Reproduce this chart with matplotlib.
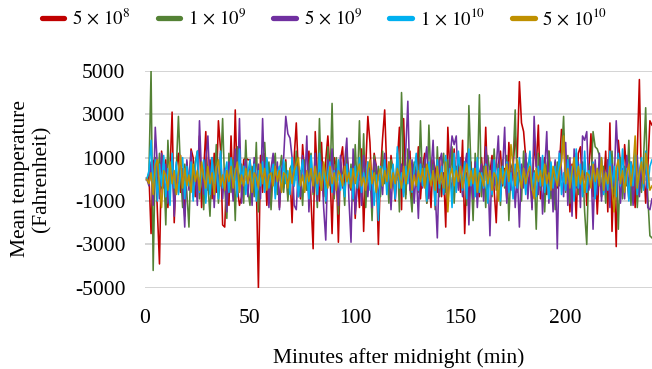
import numpy as np
from matplotlib import pyplot as plt

plt.rcParams['font.family'] = ['Liberation Serif', 'DejaVu Serif']
plt.rcParams['mathtext.fontset'] = 'stix'
plt.rcParams['axes.unicode_minus'] = False

# values, one per minute (starting at minute 1)
red_5e8 = [
    0, 200, -2500, 800, 1000, -1500, -3900, 1300, 200, 900,
    -1300, 300, 3100, -2000, 600, 1200, -600, 500, -1700, 800,
    -400, 1400, 1000, -800, 200, 2000, -1300, 400, 2200, -500,
    900, -900, 1200, -600, 2700, 1400, -2100, -2200, 400, -1200,
    2000, -600, 3200, -400, -1200, -800, 900, 1000, 900, 900,
    -200, 800, -100, -5000, 1100, -600, 1200, -1200, 500, -1100,
    800, -300, 600, -1300, 400, -400, 900, -800, 300, -2000,
    1000, 2600, 200, -900, 1600, 200, -500, 1300, -1000, -3200,
    2200, 200, -1000, 1700, -800, 900, 2000, 400, -2500, 1000,
    600, -2900, 900, 1500, -500, 1200, 200, -500, 800, -1800,
    400, -1300, 1400, -2400, 600, 2900, 1700, -700, 1200, 600,
    -3000, 300, 1900, 3200, 400, -600, 1100, 300, -1000, 800,
    2400, -1400, 2800, -700, 900, 1300, -1200, 700, -300, 1500,
    -900, 500, 1200, -1100, 400, -1300, 900, 500, -600, 1000,
    -800, 300, -2200, 2400, 200, -700, 1400, -300, 900, -600,
    1800, -2500, 300, -1000, 800, -1200, 600, 400, -800, 1000,
    -400, 2400, -600, 300, 1100, -500, -2000, 700, 1300, -300,
    500, -900, 1700, -300, 600, 2000, 1000, 4500, 2600, 2200,
    1000, -600, 500, -1300, 1800, 600, 2500, -900, 400, 1000,
    -700, 1300, 200, -1100, 800, -400, 600, 2300, 2100, -500,
    900, -1500, 700, 300, -1800, 1200, 1500, -500, 800, -1200,
    400, 2100, -800, 700, -1600, 400, 900, -400, 1300, -1500,
    2600, -2400, 400, -3100, 1800, 700, -600, 1600, 300, -900,
    800, 400, -1300, 1200, 4600, -400, 700, -1100, 500, 2700,
    2500,
]

green_1e9 = [
    0, 300, 5000, -4200, 1000, -600, 1200, -400, 600, -2100,
    1800, -300, 800, -1000, 500, 2900, 400, -1300, 700, -600,
    -2200, 1100, -300, 800, 1300, -900, 600, -1400, 900, -200,
    -1700, 1000, -500, 1600, -1100, 300, 2800, -400, -1800, 1200,
    -600, 900, -1900, 1500, -300, 700, -1100, 1800, -500, -1200,
    600, -800, 1700, -1500, 500, 1000, 1700, -400, 800, -1400,
    400, 1200, -700, 300, 1100, -600, 800, -1000, 500, 700,
    -300, 1300, -800, 400, -1200, 900, -500, 600, 1200, -700,
    300, -1300, 2800, -500, 700, -1100, 1500, -300, 3500, -900,
    1000, -1600, 800, 200, -1200, 1400, -400, 700, -1000, 1600,
    -500, 2700, -800, 2100, -1300, 800, 400, -1900, 1100, -300,
    600, -800, 1300, -200, 500, -1100, 900, 300, -700, 1200,
    -1500, 4000, 600, -900, 1400, -400, -1500, 800, 300, -600,
    2700, -300, 900, -1100, 2500, -200, 700, -1400, 1500, -800,
    400, 1200, -600, 900, -300, 1500, -1100, 600, -400, 1000,
    -700, 800, -1200, 3400, 500, -1900, 1200, -300, 3900, -800,
    600, -1300, 1100, 300, -800, 1400, -500, 700, -1200, 900,
    -400, 1100, -1900, 500, 800, 3200, -600, 400, -1000, 1300,
    -300, 700, 1000, -800, 400, -2300, 1200, -500, 900, -1500,
    600, 1300, -900, 400, -1400, 800, -300, 1000, 2900, -600,
    1100, -1100, 500, -400, 1200, -700, 300, 800, -1500, -3000,
    700, -200, 2200, 1500, 1400, 1100, -800, 600, -1100, 900,
    -400, 1300, -700, 400, -2300, 1000, -900, 600, -300, 1800,
    -1200, 500, 900, -1300, 300, -600, 1000, 3300, -800, -2600,
    -2700,
]

purple_5e9 = [
    0, -300, 800, -1200, 2400, 600, -900, 1200, -400, 700,
    -1100, 500, 1000, -1700, 300, -600, 1100, -300, -2200, 900,
    -500, 1300, -800, 400, -1200, 2700, 200, -700, 900, 2000,
    -400, 1000, -1300, 600, -200, 1200, -900, 500, -1500, 800,
    300, -1000, 1400, -600, 2800, -1100, 500, 900, -800, 600,
    -1200, 1000, -400, 700, -900, 2800, -300, 900, -1300, 500,
    1200, -600, 800, -1400, 400, 1000, 2900, 2100, 1900, 1000,
    -1200, -1400, 600, -800, 1100, -300, 2000, -1500, 700, -600,
    1200, -1000, 400, 800, -1300, -2800, 900, -200, 1400, -700,
    500, -1200, 1100, -400, 800, 1900, -900, -2900, 1400, -1600,
    -400, 700, -1200, 1100, 300, -800, 500, -1300, 900, 600,
    -1100, 400, -700, 1200, -300, 800, -1400, 600, -900, 1000,
    -200, 700, -600, 1300, 3600, -500, 900, -1100, 400, -1800,
    1000, -400, 700, 1500, -900, 300, 1800, -600, -2700, 800,
    1200, -700, 400, -1200, 900, 2000, 1600, 2000, -500, 1000,
    -800, 600, 1200, -2100, 400, -900, 800, -1300, 300, 700,
    -1000, 1500, 500, -2600, 900, -300, 600, 2000, -700, 400,
    2400, -1100, 800, -500, 1000, -1300, 300, -2200, 700, -400,
    1200, -900, 500, -1400, 2900, 600, -700, 1000, -1600, 400,
    2200, -1100, 700, -1500, 900, -3200, 1300, 400, -800, 1700,
    -1200, 1000, -1700, 1400, -400, 800, -1300, 2000, 1800, 2200,
    -500, 600, -2300, 900, -700, 1200, -1000, 400, -600, 900,
    -1300, 700, -300, 2700, 800, -1100, 500, -900, 1100, -500,
    700, -1200, 300, 1100, -800, 600, -300, 900, -1300, -1400,
    -900,
]

cyan_1e10 = [
    0, 400, 1800, -600, 900, -1000, 700, -300, 1100, -800,
    500, -1200, 1200, -400, 800, -700, 300, 1000, -900, 600,
    -300, 800, -1000, 500, 1300, -600, 200, 900, -1100, 400,
    -700, 1000, -200, 600, -900, 1300, -400, 200, 800, -600,
    1000, -300, 500, -800, 1400, -200, 600, -700, 300, 900,
    -500, 700, -1000, 400, -300, 800, -600, 1000, -400, 200,
    700, -900, 300, 600, -500, 900, -200, 400, -700, 1000,
    -300, 600, -800, 200, 900, -500, 300, -900, 1100, -200,
    500, -700, 1200, -400, 600, -1000, 300, 800, -600, 400,
    -300, 900, -500, 200, -800, 700, -200, 500, -900, 600,
    -400, 1000, -600, 300, -300, 800, -500, 400, -1200, 200,
    -1900, 600, -300, 900, -700, 400, -200, 700, -900, 1500,
    -400, 300, -800, 600, -200, 900, -600, 400, 1200, -500,
    700, -300, 500, -1000, 800, -200, 400, -1200, 900, -400,
    600, -700, 1100, -300, 500, -1300, 1200, -600, 1300, 200,
    -500, 800, -900, 1400, -300, 500, -800, 1000, -600, 300,
    -400, 700, -1100, 400, -700, 900, -200, 500, -1000, 600,
    -300, 800, -600, 300, -900, 700, -400, 1000, -200, 500,
    -700, 400, 1300, -500, 300, -800, 600, -300, 1100, -600,
    200, -900, 800, -400, 600, -200, 1200, -700, 300, -500,
    900, -300, 600, -1000, 1400, -400, 700, -800, 1300, -600,
    400, -300, 800, -900, 500, -200, 1000, -700, 300, -500,
    1300, -400, 600, -800, 1200, -300, 1400, -600, 500, -1000,
    800, -300, 1300, -700, 400, 1000, -500, 1300, -400, 600,
    900,
]

gold_5e10 = [
    0, -200, 300, -700, 600, 900, -300, -1300, 400, 200,
    -500, 800, -200, 400, -700, 300, 1100, -400, 500, -300,
    200, -600, 700, -100, 400, -500, 800, 100, -400, 600,
    -200, 300, -700, 500, 900, -300, 200, -500, 400, -100,
    600, -400, 300, 800, -600, 200, -300, 500, -200, 400,
    -600, 300, 100, -400, 700, -200, 500, -500, 200, 300,
    -300, 600, -100, 400, -600, 300, 200, -400, 500, -200,
    400, 700, 1000, -300, 200, -600, 400, -100, 500, -300,
    600, -200, 300, -500, 800, 100, -400, 600, -200, 300,
    -500, 400, 200, -300, 600, -100, 300, -400, 500, -200,
    300, 700, -300, 100, -500, 400, 900, -200, 300, -600,
    200, 500, -300, 400, -100, 800, -400, 300, -200, 500,
    100, -400, 600, -200, 300, 900, -500, 200, -300, 400,
    -100, 500, -400, 700, 200, -300, 400, -500, 600, -200,
    300, -400, 800, -1500, 200, 500, -300, 400, -100, 600,
    -400, 200, 700, -300, 400, -200, 500, -600, 300, 100,
    -300, 600, -200, 400, -500, 300, 100, -1000, 500, -200,
    300, 700, -100, 1600, 600, -300, 900, 200, -400, 500,
    -200, 300, 600, -400, -900, 500, -100, 400, -300, 700,
    -200, 300, -500, 600, 100, -300, 400, 800, 2000, -200,
    500, -400, 300, 1000, -300, 600, -200, 400, -600, 300,
    200, -400, 700, -100, 500, -300, 1000, -500, 300, -200,
    600, -400, -1500, 500, 900, -200, 400, -600, 300, 700,
    -300, 500, 2000, -400, 300, 800, -200, 1200, 400, -500,
    -300,
]

labels = [r'$5\,\times\,10^{8}$', r'$1\,\times\,10^{9}$', r'$5\,\times\,10^{9}$',
          r'$1\,\times\,10^{10}$', r'$5\,\times\,10^{10}$']
colors = ['#C00000', '#548235', '#7030A0', '#00B0F0', '#BF9000']
series = [red_5e8, green_1e9, purple_5e9, cyan_1e10, gold_5e10]
yticks = [-5000, -3000, -1000, 1000, 3000, 5000]
xticks = [0, 50, 100, 150, 200]


def main():
    fig = plt.figure(figsize=(6.52, 3.69), dpi=100)
    ax = fig.add_axes([0.222, 0.22, 0.778, 0.588])

    for y in yticks:
        ax.axhline(y, color='#d4d4d4', lw=1.4, zorder=0)
    ax.axhline(0, color='#bdbdbd', lw=2.6, zorder=0.5)

    for vals, col, lab in zip(series, colors, labels):
        x = np.arange(1, len(vals) + 1)
        ax.plot(x, vals, color=col, lw=1.15, label=lab)

    ax.set_xlim(0, 241)
    ax.set_ylim(-5000, 5000)
    ax.set_yticks(yticks)
    ax.set_xticks(xticks)
    ax.tick_params(length=0, labelsize=15.5)
    ax.tick_params(axis='y', pad=14)
    ax.tick_params(axis='x', pad=15)
    for s in ax.spines.values():
        s.set_visible(False)

    ax.set_xlabel('Minutes after midnight (min)', fontsize=15.5, labelpad=15)
    fig.text(0.048, 0.515, 'Mean temperature\n(Fahrenheit)', rotation=90,
             ha='center', va='center', multialignment='center', fontsize=15.5)

    handles, labs = ax.get_legend_handles_labels()
    leg = fig.legend(handles, labs, loc='center', bbox_to_anchor=(0.498, 0.951),
                     ncol=5, frameon=False, fontsize=13.5, handlelength=1.2,
                     handletextpad=0.42, columnspacing=1.45)
    for h in leg.get_lines():
        h.set_linewidth(3.8)
        h.set_solid_capstyle('round')

    fig.savefig('out.png', dpi=100)


if __name__ == "__main__":
    main()
